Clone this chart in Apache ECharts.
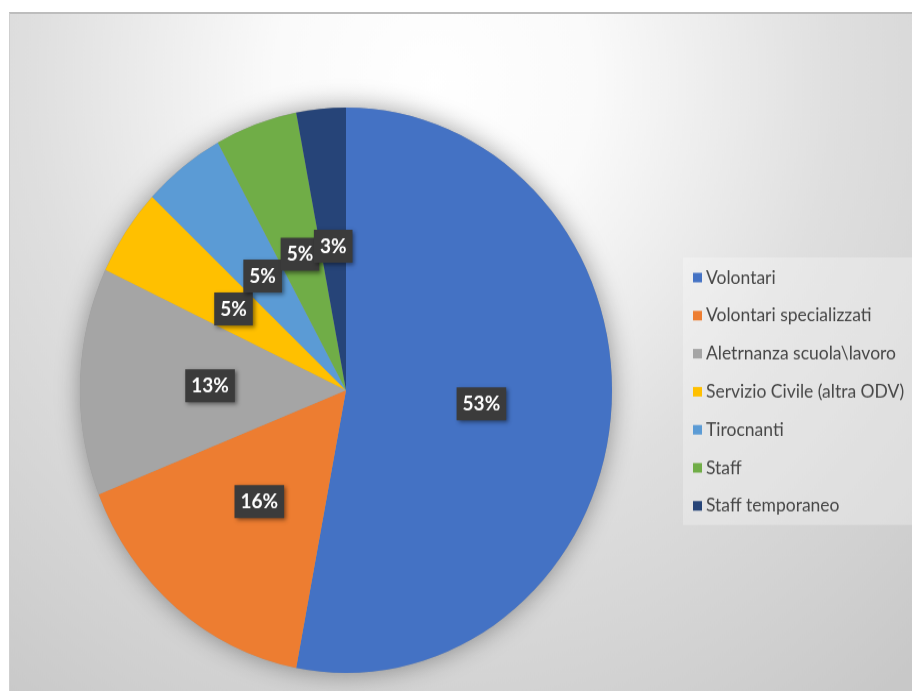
<!DOCTYPE html>
<html>
<head>
<meta charset="utf-8">
<script src="https://cdn.jsdelivr.net/npm/echarts@6/dist/echarts.min.js"></script>
<style>
  html, body { margin: 0; padding: 0; background: #ffffff; width: 912px; height: 691px; overflow: hidden; }
  #frame {
    position: absolute; left: 9px; top: 12px; width: 902px; height: 677px;
    border-top: 2px solid #bdbdbd; border-left: 1px solid #cfcfcf; overflow: hidden;
  }
  /* the chart is drawn slightly taller than wide */
  #chart {
    position: absolute; left: 0; top: 0; width: 902px; height: 637px;
    transform: scaleY(1.0628); transform-origin: 0 0;
  }
</style>
</head>
<body>
<div id="frame"><div id="chart"></div></div>
<script>
// Ripartizione delle persone coinvolte (percentuali)
const categories = [
  'Volontari',
  'Volontari specializzati',
  'Aletrnanza scuola\\lavoro',
  'Servizio Civile (altra ODV)',
  'Tirocnanti',
  'Staff',
  'Staff temporaneo'
];
const values = [53, 16, 13, 5, 5, 5, 3];
const colors = ['#4472C4', '#ED7D31', '#A5A5A5', '#FFC000', '#5B9BD5', '#70AD47', '#264478'];

const pieCenter = [336, 354];
const pieRadius = 266;

const chart = echarts.init(document.getElementById('chart'), null, { renderer: 'canvas' });

chart.setOption({
  animation: false,
  backgroundColor: {
    type: 'radial', x: 0.47, y: 0.1, r: 1.15,
    colorStops: [
      { offset: 0, color: '#ffffff' },
      { offset: 0.22, color: '#fafafa' },
      { offset: 0.55, color: '#dfdfdf' },
      { offset: 0.85, color: '#d0d0d0' },
      { offset: 1, color: '#c8c8c8' }
    ]
  },
  legend: {
    orient: 'vertical',
    left: 673,
    top: 229,
    data: categories,
    icon: 'rect',
    itemWidth: 9,
    itemHeight: 9,
    itemGap: 15.8,
    padding: [9, 12, 8, 10],
    backgroundColor: 'rgba(255,255,255,0.28)',
    selectedMode: false,
    textStyle: {
      fontFamily: 'Lato',
      fontSize: 17.5,
      lineHeight: 20,
      color: '#474747',
      padding: [0, 0, 0, -1]
    }
  },
  series: [
    {
      // soft shadow beneath the pie
      type: 'pie',
      silent: true,
      center: pieCenter,
      radius: pieRadius,
      startAngle: 90,
      label: { show: false },
      labelLine: { show: false },
      itemStyle: {
        color: '#9a9a9a',
        shadowBlur: 24,
        shadowColor: 'rgba(0,0,0,0.38)'
      },
      data: [{ value: 1, name: '' }],
      z: 1
    },
    {
      type: 'pie',
      center: pieCenter,
      radius: pieRadius,
      startAngle: 90,
      clockwise: true,
      percentPrecision: 0,
      avoidLabelOverlap: false,
      minShowLabelAngle: 0,
      labelLayout: { hideOverlap: false },
      z: 2,
      itemStyle: { borderWidth: 0 },
      label: {
        show: true,
        position: 'inside',
        formatter: '{d}%',
        fontFamily: 'Lato',
        fontWeight: 'bold',
        fontSize: 19,
        lineHeight: 20,
        color: '#ffffff',
        backgroundColor: '#3b3b3b',
        padding: [6, 6, 5, 6],
        shadowColor: 'rgba(0,0,0,0.45)',
        shadowBlur: 4,
        shadowOffsetX: 2,
        shadowOffsetY: 2
      },
      labelLine: { show: false },
      emphasis: { disabled: true },
      data: categories.map((name, i) => ({
        name: name,
        value: values[i],
        itemStyle: { color: colors[i] }
      }))
    }
  ]
});
</script>
</body>
</html>
